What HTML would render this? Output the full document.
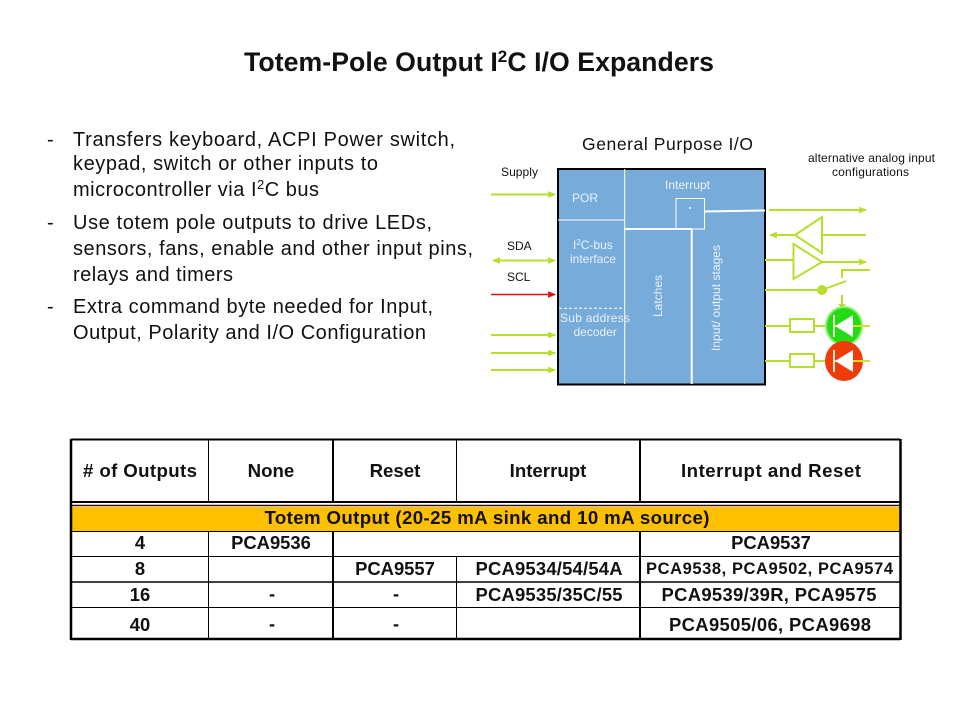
<!DOCTYPE html>
<html><head><meta charset="utf-8"><style>
html,body{margin:0;padding:0;background:#fff}
svg{display:block}
text{font-family:"Liberation Sans",Arial,sans-serif;fill:#111}
.b{font-size:20px}
.h{font-size:18.67px;font-weight:bold;text-anchor:middle}
.c{font-size:18.4px;font-weight:bold;text-anchor:middle}
.w{fill:#eaf2fa;font-size:12px}
.s{font-size:12px}
.g{stroke:#b5df2c;stroke-width:2;fill:none}
.t{stroke:#000;stroke-width:1.5}
</style></head><body>
<svg width="960" height="720" viewBox="0 0 960 720" xmlns="http://www.w3.org/2000/svg">
<defs>
<marker id="a" markerWidth="8" markerHeight="8" refX="6" refY="3" orient="auto-start-reverse" markerUnits="userSpaceOnUse" viewBox="0 0 7 6"><path d="M0 0L7 3L0 6z" fill="#b5df2c"/></marker>
<marker id="r" markerWidth="8" markerHeight="8" refX="6" refY="3" orient="auto" markerUnits="userSpaceOnUse" viewBox="0 0 7 6"><path d="M0 0L7 3L0 6z" fill="#e01010"/></marker>
</defs>
<text x="244" y="71" font-weight="bold" textLength="470" lengthAdjust="spacing" fill="#000" style="font-size:26.67px">Totem-Pole Output I<tspan style="font-size:17px" dy="-9">2</tspan><tspan dy="9">C I/O Expanders</tspan></text>

<text class="b" x="47" y="146">-</text>
<text class="b" x="73" y="146" textLength="382">Transfers keyboard, ACPI Power switch,</text>
<text class="b" x="73" y="170" textLength="305">keypad, switch or other inputs to</text>
<text class="b" x="73" y="196" textLength="246">microcontroller via I<tspan style="font-size:13px" dy="-7">2</tspan><tspan dy="7">C bus</tspan></text>
<text class="b" x="47" y="229">-</text>
<text class="b" x="73" y="229" textLength="359">Use totem pole outputs to drive LEDs,</text>
<text class="b" x="73" y="255" textLength="400">sensors, fans, enable and other input pins,</text>
<text class="b" x="73" y="281" textLength="160">relays and timers</text>
<text class="b" x="47" y="313">-</text>
<text class="b" x="73" y="313" textLength="360">Extra command byte needed for Input,</text>
<text class="b" x="73" y="339" textLength="353">Output, Polarity and I/O Configuration</text>

<text x="582" y="150" style="font-size:17.5px" textLength="171">General Purpose I/O</text>
<text class="s" x="808" y="162" textLength="127">alternative analog input</text>
<text class="s" x="832" y="176" textLength="77">configurations</text>
<text class="s" x="501" y="176" textLength="37">Supply</text>
<text class="s" x="507" y="250">SDA</text>
<text class="s" x="507" y="281">SCL</text>

<rect x="558" y="169" width="207" height="215.5" fill="#77abda" stroke="#000" stroke-width="2"/>
<g stroke="#fff" fill="none">
<path d="M624.7 169V384M558 220H625M676 198.5H704.5V229H676z"/>
<path d="M625 229H692M691.7 229V384M705 211.5L765 210.5" stroke-width="2"/>
<path d="M559 308.3H625" stroke-dasharray="3 2"/>
</g>
<rect x="689" y="207" width="1.5" height="2" fill="#fff"/>
<text class="w" x="572" y="202">POR</text>
<text class="w" x="665" y="189" textLength="45">Interrupt</text>
<text class="w" x="573" y="249">I<tspan style="font-size:8px" dy="-4">2</tspan><tspan dy="4">C-bus</tspan></text>
<text class="w" x="570" y="263">interface</text>
<text class="w" x="560" y="322" textLength="70">Sub address</text>
<text class="w" x="573.500" y="336">decoder</text>
<text class="w" transform="translate(662,317) rotate(-90)">Latches</text>
<text class="w" transform="translate(720,351) rotate(-90)" textLength="106">Input/ output stages</text>

<g class="g">
<path d="M491 194.500H555" marker-end="url(#a)"/>
<path d="M493 260.500H555" marker-start="url(#a)" marker-end="url(#a)"/>
<path d="M491 335H555" marker-end="url(#a)"/>
<path d="M491 353H555" marker-end="url(#a)"/>
<path d="M491 370H555" marker-end="url(#a)"/>
<path d="M769 210H866" marker-end="url(#a)"/>
<path d="M795 235H770" marker-end="url(#a)"/>
<path d="M822 235H866M765 260H793"/>
<path d="M822 262H866" marker-end="url(#a)"/>
<path d="M795 235L822 217V253zM793.500 244V279L822 262z"/>
<path d="M765 290H822M822 290L846 281M842 278V270H870M842 295V305"/>
<path d="M765 326H790M814 326H870M765 361H790M814 361H870"/>
<rect x="790" y="319" width="24" height="13"/>
<rect x="790" y="354" width="24" height="13"/>
</g>
<path d="M491 294.500H555" stroke="#e01010" stroke-width="1.500" fill="none" marker-end="url(#r)"/>
<circle cx="822" cy="290" r="5" fill="#b5df2c"/>
<path d="M838 304H846L842 308z" fill="#b5df2c"/>
<ellipse cx="844" cy="326" rx="19" ry="20" fill="#8fee70"/>
<ellipse cx="844" cy="326" rx="17" ry="18" fill="#22dd11"/>
<ellipse cx="844" cy="361" rx="19" ry="20" fill="#f03c0a"/>
<path d="M834 326H870M834 361H870" stroke="#d9df2c" stroke-width="2"/>
<path d="M835 326L853 315V337zM835 361L853 350V372z" fill="#fff"/>
<path d="M834 315V337M834 350V372" stroke="#e8e8d0" stroke-width="2"/>

<rect x="71" y="507" width="829" height="24" fill="#ffc000"/>
<g class="t" fill="none">
<path d="M71 439.500H900" stroke-width="2"/>
<path d="M71 502H900" stroke-width="2"/>
<path d="M71 505.500H900" stroke-width="1.500" stroke="#320a00"/>
<path d="M71 531.500H900M71 556.500H900M71 607.500H900" stroke-width="1"/>
<path d="M71 582H900" stroke-width="1.500"/>
<path d="M71 639H900" stroke-width="2.500"/>
<path d="M71 439V640M900.500 439V640" stroke-width="2.500"/>
<path d="M208.500 439V502M208.500 531V639M456.500 439V502M456.500 556V639" stroke-width="1"/>
<path d="M333 439V502M333 531V639M640 439V502M640 531V639" stroke-width="2"/>
</g>
<text class="h" x="140" y="477" textLength="114">  # of Outputs</text>
<text class="h" x="271" y="477">None</text>
<text class="h" x="395" y="477">Reset</text>
<text class="h" x="548" y="477">Interrupt</text>
<text class="h" x="771" y="477" textLength="180">Interrupt and Reset</text>
<text class="h" x="487" y="524" textLength="445">Totem Output (20-25 mA sink and 10 mA source)</text>
<text class="c" x="140" y="549">4</text>
<text class="c" x="271" y="549">PCA9536</text>
<text class="c" x="771" y="549">PCA9537</text>
<text class="c" x="140" y="575">8</text>
<text class="c" x="395" y="575">PCA9557</text>
<text class="c" x="549" y="575" textLength="147">PCA9534/54/54A</text>
<text class="c" x="769.500" y="574" style="font-size:16.5px" textLength="247">PCA9538, PCA9502, PCA9574</text>
<text class="c" x="140" y="601">16</text>
<text class="c" x="272" y="600">-</text>
<text class="c" x="396" y="600">-</text>
<text class="c" x="549" y="601" textLength="147">PCA9535/35C/55</text>
<text class="c" x="769" y="601" textLength="215">PCA9539/39R, PCA9575</text>
<text class="c" x="140" y="631">40</text>
<text class="c" x="272" y="630">-</text>
<text class="c" x="396" y="630">-</text>
<text class="c" x="770" y="631" textLength="202">PCA9505/06, PCA9698</text>
</svg>
</body></html>
